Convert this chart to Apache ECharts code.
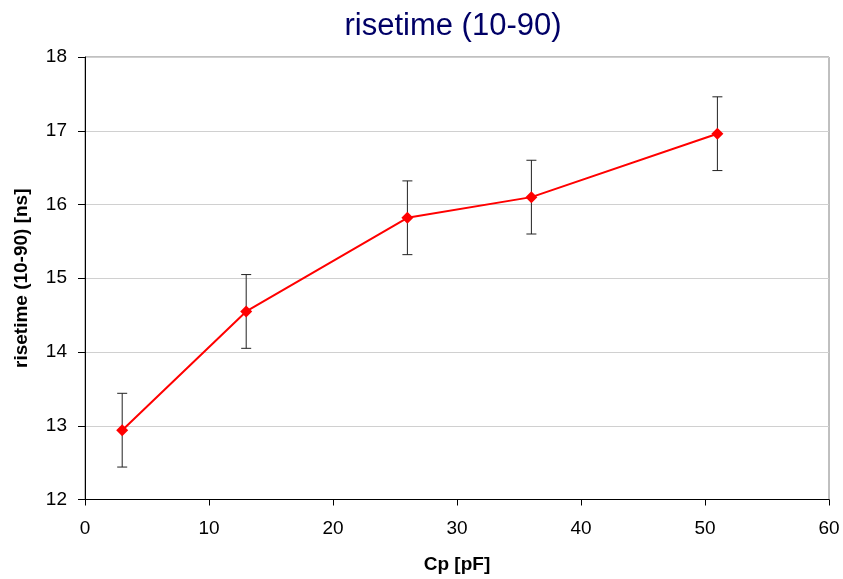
<!DOCTYPE html>
<html><head><meta charset="utf-8">
<script src="https://cdn.jsdelivr.net/npm/echarts@6/dist/echarts.min.js"></script>
<style>html,body{margin:0;padding:0;background:#fff}#c{width:843px;height:579px}</style>
</head><body><div id="c"></div>
<script>
const cp = [3, 13, 26, 36, 51];
const risetime = [12.94, 14.55, 15.82, 16.10, 16.96];
const errPlus = [0.5, 0.5, 0.5, 0.5, 0.5];
const errMinus = [0.5, 0.5, 0.5, 0.5, 0.5];

const chart = echarts.init(document.getElementById('c'));
const lineData = cp.map((x, i) => [x, risetime[i]]);
const errData = cp.map((x, i) => [x, risetime[i] - errMinus[i], risetime[i] + errPlus[i]]);
const font = 'Liberation Sans, Arial, sans-serif';
chart.setOption({
  animation: false,
  title: {
    text: 'risetime (10-90)', left: 448, top: 6, textAlign: 'center',
    textStyle: { fontFamily: font, fontSize: 31, fontWeight: 'normal', color: '#000066' }
  },
  grid: { left: 85, right: 14, top: 57, bottom: 77, show: true, borderColor: '#808080', borderWidth: 1, backgroundColor: '#fff' },
  xAxis: {
    type: 'value', min: 0, max: 60, interval: 10,
    name: 'Cp [pF]', nameLocation: 'middle', nameGap: 65,
    nameTextStyle: { fontFamily: font, fontSize: 19, fontWeight: 'bold', color: '#000', verticalAlign: 'middle' },
    axisLine: { show: true, onZero: false, lineStyle: { color: '#000', width: 1 } },
    axisTick: { show: true, inside: false, length: 6, lineStyle: { color: '#000' } },
    axisLabel: { fontFamily: font, fontSize: 19, color: '#000', margin: 20 },
    splitLine: { show: false }
  },
  yAxis: {
    type: 'value', min: 12, max: 18, interval: 1,
    name: 'risetime (10-90) [ns]', nameLocation: 'middle', nameGap: 63, nameRotate: 90,
    nameTextStyle: { fontFamily: font, fontSize: 19, fontWeight: 'bold', color: '#000', verticalAlign: 'middle' },
    axisLine: { show: true, onZero: false, lineStyle: { color: '#000', width: 1 } },
    axisTick: { show: true, inside: false, length: 7, lineStyle: { color: '#000' } },
    axisLabel: { fontFamily: font, fontSize: 19, color: '#000', margin: 18 },
    splitLine: { show: true, lineStyle: { color: '#d0d0d0', width: 1 } }
  },
  series: [
    {
      type: 'custom',
      data: errData,
      z: 3,
      renderItem: function (params, api) {
        const x = api.value(0);
        const lo = api.coord([x, api.value(1)]);
        const hi = api.coord([x, api.value(2)]);
        const w = 5;
        const st = { stroke: '#222', lineWidth: 1 };
        return {
          type: 'group',
          children: [
            { type: 'line', shape: { x1: lo[0], y1: lo[1], x2: hi[0], y2: hi[1] }, style: st },
            { type: 'line', shape: { x1: lo[0] - w, y1: lo[1], x2: lo[0] + w, y2: lo[1] }, style: st },
            { type: 'line', shape: { x1: hi[0] - w, y1: hi[1], x2: hi[0] + w, y2: hi[1] }, style: st }
          ]
        };
      }
    },
    {
      type: 'line',
      data: lineData,
      z: 4,
      symbol: 'diamond', symbolSize: 12,
      lineStyle: { color: '#ff0000', width: 2 },
      itemStyle: { color: '#ff0000' }
    }
  ]
});
</script></body></html>
